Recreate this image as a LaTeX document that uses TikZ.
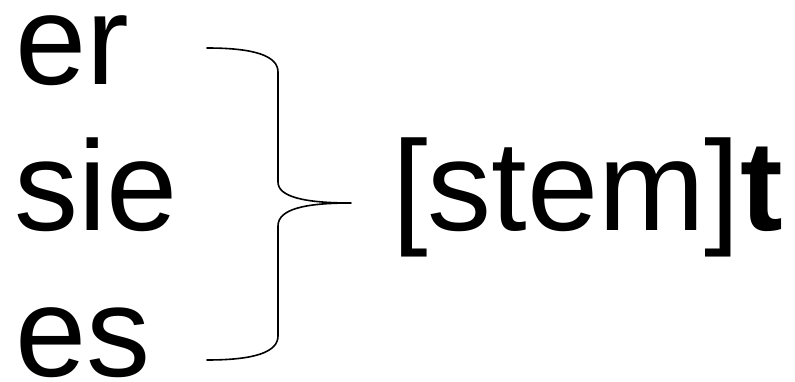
\documentclass[tikz,border=0pt]{standalone}
\usepackage{fontspec}
\setmainfont{Liberation Sans}
\begin{document}
\begin{tikzpicture}[x=1pt,y=-1pt,
  word/.style={anchor=base west,inner sep=0pt,outer sep=0pt,font=\fontsize{128}{128}\selectfont},
  bracepath/.style={line width=1.6pt,line cap=round,line join=round}]
\useasboundingbox (0,0) rectangle (795,382);
\node[word] (er) at (15,85) {er};
\node[word] (sie) at (14,231) {sie};
\node[word] (es) at (15,376) {es};
\node[word] (stem) at (392,231) {[stem]\textbf{t}};
\coordinate (top) at (207,48);
\coordinate (tip) at (351,203);
\coordinate (bot) at (207,360);
\draw[bracepath] (top) .. controls (255,48) and (278,56) .. (278,72)
  -- (278,182) .. controls (278,197) and (305,203) .. (tip)
  .. controls (305,203) and (278,209) .. (278,226)
  -- (278,336) .. controls (278,352) and (255,360) .. (bot);
\end{tikzpicture}
\end{document}
